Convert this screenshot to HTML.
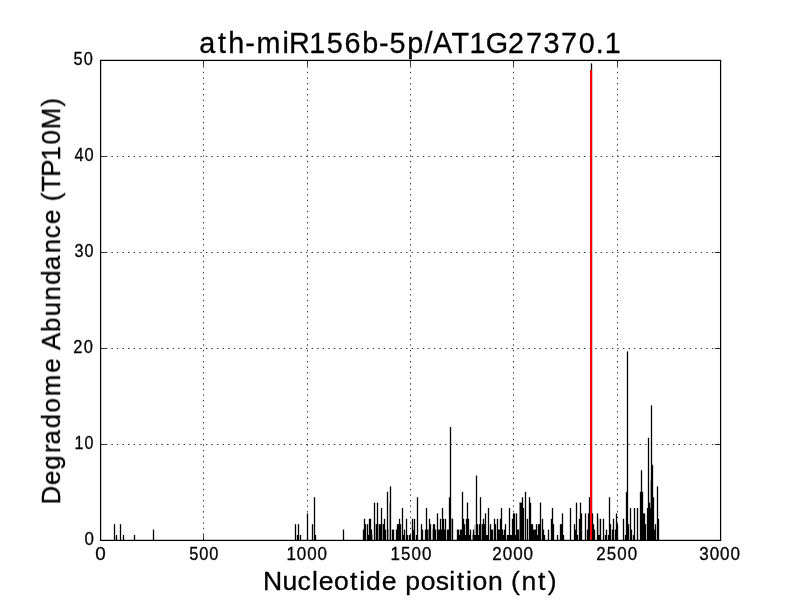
<!DOCTYPE html>
<html><head><meta charset="utf-8"><title>ath-miR156b-5p/AT1G27370.1</title>
<style>html,body{margin:0;padding:0;background:#fff;overflow:hidden}svg{display:block}text{font-family:"Liberation Sans",sans-serif;fill:#000}</style></head>
<body>
<svg width="800" height="600" viewBox="0 0 800 600">
<rect x="0" y="0" width="800" height="600" fill="#fff"/>
<g stroke="#000" stroke-width="1" stroke-dasharray="1.39 4.17" fill="none" opacity="0.8">
<line x1="203.5" y1="540.3" x2="203.5" y2="60.5"/>
<line x1="307.5" y1="540.3" x2="307.5" y2="60.5"/>
<line x1="410.5" y1="540.3" x2="410.5" y2="60.5"/>
<line x1="513.5" y1="540.3" x2="513.5" y2="60.5"/>
<line x1="617.5" y1="540.3" x2="617.5" y2="60.5"/>
<line x1="100.3" y1="444.5" x2="720.5" y2="444.5"/>
<line x1="100.3" y1="348.5" x2="720.5" y2="348.5"/>
<line x1="100.3" y1="252.5" x2="720.5" y2="252.5"/>
<line x1="100.3" y1="156.5" x2="720.5" y2="156.5"/>
</g>
<g fill="#000">
<rect x="113.85" y="524.2" width="1.3" height="16.3"/>
<rect x="115.85" y="535.0" width="1.3" height="5.5"/>
<rect x="119.85" y="524.2" width="1.3" height="16.3"/>
<rect x="122.85" y="535.0" width="1.3" height="5.5"/>
<rect x="133.85" y="535.0" width="1.3" height="5.5"/>
<rect x="152.85" y="529.6" width="1.3" height="10.9"/>
<rect x="294.85" y="524.2" width="1.3" height="16.3"/>
<rect x="296.85" y="535.0" width="1.3" height="5.5"/>
<rect x="297.85" y="524.2" width="1.3" height="16.3"/>
<rect x="299.85" y="535.0" width="1.3" height="5.5"/>
<rect x="306.85" y="513.4" width="1.3" height="27.1"/>
<rect x="311.85" y="524.2" width="1.3" height="16.3"/>
<rect x="313.85" y="497.2" width="1.3" height="43.3"/>
<rect x="314.85" y="535.0" width="1.3" height="5.5"/>
<rect x="342.85" y="529.6" width="1.3" height="10.9"/>
<rect x="362.85" y="529.6" width="1.3" height="10.9"/>
<rect x="363.85" y="518.8" width="1.3" height="21.7"/>
<rect x="364.85" y="524.2" width="1.3" height="16.3"/>
<rect x="366.85" y="524.2" width="1.3" height="16.3"/>
<rect x="367.85" y="535.0" width="1.3" height="5.5"/>
<rect x="368.85" y="518.8" width="1.3" height="21.7"/>
<rect x="369.85" y="518.8" width="1.3" height="21.7"/>
<rect x="370.85" y="529.6" width="1.3" height="10.9"/>
<rect x="373.85" y="502.6" width="1.3" height="37.9"/>
<rect x="375.85" y="524.2" width="1.3" height="16.3"/>
<rect x="376.85" y="502.6" width="1.3" height="37.9"/>
<rect x="378.85" y="524.2" width="1.3" height="16.3"/>
<rect x="379.85" y="524.2" width="1.3" height="16.3"/>
<rect x="380.85" y="508.0" width="1.3" height="32.5"/>
<rect x="382.85" y="524.2" width="1.3" height="16.3"/>
<rect x="383.85" y="518.8" width="1.3" height="21.7"/>
<rect x="384.85" y="529.6" width="1.3" height="10.9"/>
<rect x="386.85" y="491.8" width="1.3" height="48.7"/>
<rect x="389.85" y="486.4" width="1.3" height="54.1"/>
<rect x="391.85" y="529.6" width="1.3" height="10.9"/>
<rect x="392.85" y="529.6" width="1.3" height="10.9"/>
<rect x="395.85" y="529.6" width="1.3" height="10.9"/>
<rect x="396.85" y="524.2" width="1.3" height="16.3"/>
<rect x="397.85" y="524.2" width="1.3" height="16.3"/>
<rect x="398.85" y="518.8" width="1.3" height="21.7"/>
<rect x="399.85" y="524.2" width="1.3" height="16.3"/>
<rect x="401.85" y="508.0" width="1.3" height="32.5"/>
<rect x="402.85" y="535.0" width="1.3" height="5.5"/>
<rect x="403.85" y="529.6" width="1.3" height="10.9"/>
<rect x="405.85" y="518.8" width="1.3" height="21.7"/>
<rect x="406.85" y="535.0" width="1.3" height="5.5"/>
<rect x="408.85" y="535.0" width="1.3" height="5.5"/>
<rect x="411.85" y="518.8" width="1.3" height="21.7"/>
<rect x="412.85" y="529.6" width="1.3" height="10.9"/>
<rect x="413.85" y="518.8" width="1.3" height="21.7"/>
<rect x="415.85" y="535.0" width="1.3" height="5.5"/>
<rect x="416.85" y="497.2" width="1.3" height="43.3"/>
<rect x="420.85" y="524.2" width="1.3" height="16.3"/>
<rect x="421.85" y="529.6" width="1.3" height="10.9"/>
<rect x="424.85" y="529.6" width="1.3" height="10.9"/>
<rect x="425.85" y="508.0" width="1.3" height="32.5"/>
<rect x="426.85" y="529.6" width="1.3" height="10.9"/>
<rect x="428.85" y="518.8" width="1.3" height="21.7"/>
<rect x="429.85" y="524.2" width="1.3" height="16.3"/>
<rect x="432.85" y="524.2" width="1.3" height="16.3"/>
<rect x="433.85" y="524.2" width="1.3" height="16.3"/>
<rect x="434.85" y="529.6" width="1.3" height="10.9"/>
<rect x="436.85" y="513.4" width="1.3" height="27.1"/>
<rect x="437.85" y="529.6" width="1.3" height="10.9"/>
<rect x="438.85" y="529.6" width="1.3" height="10.9"/>
<rect x="439.85" y="518.8" width="1.3" height="21.7"/>
<rect x="440.85" y="529.6" width="1.3" height="10.9"/>
<rect x="441.85" y="508.0" width="1.3" height="32.5"/>
<rect x="442.85" y="518.8" width="1.3" height="21.7"/>
<rect x="443.85" y="529.6" width="1.3" height="10.9"/>
<rect x="444.85" y="518.8" width="1.3" height="21.7"/>
<rect x="446.85" y="529.6" width="1.3" height="10.9"/>
<rect x="447.85" y="529.6" width="1.3" height="10.9"/>
<rect x="448.85" y="497.2" width="1.3" height="43.3"/>
<rect x="449.85" y="427.0" width="1.3" height="113.5"/>
<rect x="451.85" y="518.8" width="1.3" height="21.7"/>
<rect x="456.85" y="529.6" width="1.3" height="10.9"/>
<rect x="457.85" y="529.6" width="1.3" height="10.9"/>
<rect x="458.85" y="535.0" width="1.3" height="5.5"/>
<rect x="459.85" y="529.6" width="1.3" height="10.9"/>
<rect x="460.85" y="529.6" width="1.3" height="10.9"/>
<rect x="461.85" y="491.8" width="1.3" height="48.7"/>
<rect x="462.85" y="518.8" width="1.3" height="21.7"/>
<rect x="463.85" y="524.2" width="1.3" height="16.3"/>
<rect x="464.85" y="535.0" width="1.3" height="5.5"/>
<rect x="465.85" y="518.8" width="1.3" height="21.7"/>
<rect x="466.85" y="502.6" width="1.3" height="37.9"/>
<rect x="467.85" y="518.8" width="1.3" height="21.7"/>
<rect x="468.85" y="535.0" width="1.3" height="5.5"/>
<rect x="469.85" y="529.6" width="1.3" height="10.9"/>
<rect x="472.85" y="529.6" width="1.3" height="10.9"/>
<rect x="473.85" y="535.0" width="1.3" height="5.5"/>
<rect x="474.85" y="535.0" width="1.3" height="5.5"/>
<rect x="475.85" y="475.6" width="1.3" height="64.9"/>
<rect x="476.85" y="524.2" width="1.3" height="16.3"/>
<rect x="477.85" y="535.0" width="1.3" height="5.5"/>
<rect x="478.85" y="524.2" width="1.3" height="16.3"/>
<rect x="479.85" y="497.2" width="1.3" height="43.3"/>
<rect x="481.85" y="524.2" width="1.3" height="16.3"/>
<rect x="482.85" y="518.8" width="1.3" height="21.7"/>
<rect x="483.85" y="524.2" width="1.3" height="16.3"/>
<rect x="484.85" y="513.4" width="1.3" height="27.1"/>
<rect x="485.85" y="535.0" width="1.3" height="5.5"/>
<rect x="486.85" y="535.0" width="1.3" height="5.5"/>
<rect x="487.85" y="508.0" width="1.3" height="32.5"/>
<rect x="489.85" y="524.2" width="1.3" height="16.3"/>
<rect x="490.85" y="529.6" width="1.3" height="10.9"/>
<rect x="491.85" y="529.6" width="1.3" height="10.9"/>
<rect x="493.85" y="518.8" width="1.3" height="21.7"/>
<rect x="494.85" y="524.2" width="1.3" height="16.3"/>
<rect x="496.85" y="518.8" width="1.3" height="21.7"/>
<rect x="497.85" y="529.6" width="1.3" height="10.9"/>
<rect x="498.85" y="529.6" width="1.3" height="10.9"/>
<rect x="499.85" y="518.8" width="1.3" height="21.7"/>
<rect x="500.85" y="508.0" width="1.3" height="32.5"/>
<rect x="501.85" y="529.6" width="1.3" height="10.9"/>
<rect x="502.85" y="535.0" width="1.3" height="5.5"/>
<rect x="503.85" y="529.6" width="1.3" height="10.9"/>
<rect x="504.85" y="524.2" width="1.3" height="16.3"/>
<rect x="506.85" y="535.0" width="1.3" height="5.5"/>
<rect x="507.85" y="535.0" width="1.3" height="5.5"/>
<rect x="508.85" y="508.0" width="1.3" height="32.5"/>
<rect x="509.85" y="535.0" width="1.3" height="5.5"/>
<rect x="510.85" y="535.0" width="1.3" height="5.5"/>
<rect x="511.85" y="518.8" width="1.3" height="21.7"/>
<rect x="512.85" y="513.4" width="1.3" height="27.1"/>
<rect x="513.85" y="513.4" width="1.3" height="27.1"/>
<rect x="514.85" y="535.0" width="1.3" height="5.5"/>
<rect x="515.85" y="513.4" width="1.3" height="27.1"/>
<rect x="516.85" y="529.6" width="1.3" height="10.9"/>
<rect x="517.85" y="529.6" width="1.3" height="10.9"/>
<rect x="519.85" y="502.6" width="1.3" height="37.9"/>
<rect x="520.85" y="502.6" width="1.3" height="37.9"/>
<rect x="521.85" y="497.2" width="1.3" height="43.3"/>
<rect x="522.85" y="508.0" width="1.3" height="32.5"/>
<rect x="524.85" y="491.8" width="1.3" height="48.7"/>
<rect x="526.85" y="518.8" width="1.3" height="21.7"/>
<rect x="528.85" y="497.2" width="1.3" height="43.3"/>
<rect x="529.85" y="502.6" width="1.3" height="37.9"/>
<rect x="530.85" y="524.2" width="1.3" height="16.3"/>
<rect x="531.85" y="524.2" width="1.3" height="16.3"/>
<rect x="532.85" y="529.6" width="1.3" height="10.9"/>
<rect x="533.85" y="529.6" width="1.3" height="10.9"/>
<rect x="534.85" y="529.6" width="1.3" height="10.9"/>
<rect x="535.85" y="524.2" width="1.3" height="16.3"/>
<rect x="536.85" y="535.0" width="1.3" height="5.5"/>
<rect x="537.85" y="524.2" width="1.3" height="16.3"/>
<rect x="538.85" y="524.2" width="1.3" height="16.3"/>
<rect x="539.85" y="502.6" width="1.3" height="37.9"/>
<rect x="541.85" y="518.8" width="1.3" height="21.7"/>
<rect x="542.85" y="529.6" width="1.3" height="10.9"/>
<rect x="543.85" y="535.0" width="1.3" height="5.5"/>
<rect x="547.85" y="529.6" width="1.3" height="10.9"/>
<rect x="550.85" y="518.8" width="1.3" height="21.7"/>
<rect x="551.85" y="508.0" width="1.3" height="32.5"/>
<rect x="552.85" y="524.2" width="1.3" height="16.3"/>
<rect x="556.85" y="535.0" width="1.3" height="5.5"/>
<rect x="559.85" y="524.2" width="1.3" height="16.3"/>
<rect x="560.85" y="524.2" width="1.3" height="16.3"/>
<rect x="561.85" y="513.4" width="1.3" height="27.1"/>
<rect x="562.85" y="535.0" width="1.3" height="5.5"/>
<rect x="569.85" y="508.0" width="1.3" height="32.5"/>
<rect x="573.85" y="524.2" width="1.3" height="16.3"/>
<rect x="574.85" y="529.6" width="1.3" height="10.9"/>
<rect x="575.85" y="502.6" width="1.3" height="37.9"/>
<rect x="576.85" y="535.0" width="1.3" height="5.5"/>
<rect x="578.85" y="518.8" width="1.3" height="21.7"/>
<rect x="579.85" y="502.6" width="1.3" height="37.9"/>
<rect x="580.85" y="513.4" width="1.3" height="27.1"/>
<rect x="584.85" y="513.4" width="1.3" height="27.1"/>
<rect x="586.85" y="529.6" width="1.3" height="10.9"/>
<rect x="587.85" y="513.4" width="1.3" height="27.1"/>
<rect x="588.85" y="497.2" width="1.3" height="43.3"/>
<rect x="590.85" y="63.4" width="1.3" height="477.1"/>
<rect x="591.85" y="513.4" width="1.3" height="27.1"/>
<rect x="592.85" y="524.2" width="1.3" height="16.3"/>
<rect x="593.85" y="529.6" width="1.3" height="10.9"/>
<rect x="596.85" y="513.4" width="1.3" height="27.1"/>
<rect x="597.85" y="535.0" width="1.3" height="5.5"/>
<rect x="598.85" y="535.0" width="1.3" height="5.5"/>
<rect x="599.85" y="518.8" width="1.3" height="21.7"/>
<rect x="602.85" y="518.8" width="1.3" height="21.7"/>
<rect x="604.85" y="535.0" width="1.3" height="5.5"/>
<rect x="605.85" y="529.6" width="1.3" height="10.9"/>
<rect x="607.85" y="535.0" width="1.3" height="5.5"/>
<rect x="608.85" y="497.2" width="1.3" height="43.3"/>
<rect x="609.85" y="524.2" width="1.3" height="16.3"/>
<rect x="611.85" y="529.6" width="1.3" height="10.9"/>
<rect x="612.85" y="518.8" width="1.3" height="21.7"/>
<rect x="614.85" y="529.6" width="1.3" height="10.9"/>
<rect x="615.85" y="513.4" width="1.3" height="27.1"/>
<rect x="616.85" y="524.2" width="1.3" height="16.3"/>
<rect x="622.85" y="518.8" width="1.3" height="21.7"/>
<rect x="624.85" y="535.0" width="1.3" height="5.5"/>
<rect x="625.85" y="491.8" width="1.3" height="48.7"/>
<rect x="626.85" y="351.4" width="1.3" height="189.1"/>
<rect x="627.85" y="524.2" width="1.3" height="16.3"/>
<rect x="629.85" y="508.0" width="1.3" height="32.5"/>
<rect x="630.85" y="529.6" width="1.3" height="10.9"/>
<rect x="632.85" y="535.0" width="1.3" height="5.5"/>
<rect x="633.85" y="508.0" width="1.3" height="32.5"/>
<rect x="636.85" y="508.0" width="1.3" height="32.5"/>
<rect x="639.85" y="491.8" width="1.3" height="48.7"/>
<rect x="640.85" y="470.2" width="1.3" height="70.3"/>
<rect x="641.85" y="491.8" width="1.3" height="48.7"/>
<rect x="642.85" y="513.4" width="1.3" height="27.1"/>
<rect x="643.85" y="513.4" width="1.3" height="27.1"/>
<rect x="644.85" y="524.2" width="1.3" height="16.3"/>
<rect x="646.85" y="508.0" width="1.3" height="32.5"/>
<rect x="647.85" y="437.8" width="1.3" height="102.7"/>
<rect x="648.85" y="502.6" width="1.3" height="37.9"/>
<rect x="649.85" y="508.0" width="1.3" height="32.5"/>
<rect x="650.85" y="405.4" width="1.3" height="135.1"/>
<rect x="651.85" y="464.8" width="1.3" height="75.7"/>
<rect x="652.85" y="497.2" width="1.3" height="43.3"/>
<rect x="653.85" y="529.6" width="1.3" height="10.9"/>
<rect x="654.85" y="524.2" width="1.3" height="16.3"/>
<rect x="656.85" y="486.4" width="1.3" height="54.1"/>
<rect x="657.85" y="518.8" width="1.3" height="21.7"/>
</g>
<g fill="#000">
<rect x="372" y="534.6" width="1" height="5.4" opacity="0.3"/>
<rect x="375" y="523.8" width="1" height="16.2" opacity="0.25"/>
<rect x="378" y="523.8" width="1" height="16.2" opacity="0.25"/>
<rect x="382" y="523.8" width="1" height="16.2" opacity="0.3"/>
<rect x="383" y="523.8" width="1" height="16.2" opacity="0.3"/>
<rect x="388" y="529.2" width="1" height="10.8" opacity="0.3"/>
<rect x="389" y="502.2" width="1" height="37.8" opacity="0.3"/>
<rect x="410" y="534.6" width="1" height="5.4" opacity="0.5"/>
<rect x="428" y="529.2" width="1" height="10.8" opacity="0.4"/>
<rect x="432" y="529.2" width="1" height="10.8" opacity="0.3"/>
<rect x="451" y="518.4" width="1" height="21.6" opacity="0.3"/>
<rect x="472" y="534.6" width="1" height="5.4" opacity="0.4"/>
<rect x="474" y="524.9" width="1" height="15.1" opacity="0.25"/>
<rect x="475" y="524.9" width="1" height="15.1" opacity="0.25"/>
<rect x="481" y="523.8" width="1" height="16.2" opacity="0.3"/>
<rect x="519" y="502.2" width="1" height="37.8" opacity="0.4"/>
<rect x="598" y="518.4" width="1" height="21.6" opacity="0.2"/>
<rect x="599" y="518.4" width="1" height="21.6" opacity="0.2"/>
<rect x="650" y="480.6" width="1" height="59.4" opacity="0.3"/>
</g>
<rect x="590" y="70" width="2.1" height="470" fill="#ff0000"/>
<g stroke="#000" stroke-width="0.75" fill="none">
<line x1="100.5" y1="540.4" x2="100.5" y2="534.8"/>
<line x1="100.5" y1="60.4" x2="100.5" y2="66.0"/>
<line x1="203.5" y1="540.4" x2="203.5" y2="534.8"/>
<line x1="203.5" y1="60.4" x2="203.5" y2="66.0"/>
<line x1="307.5" y1="540.4" x2="307.5" y2="534.8"/>
<line x1="307.5" y1="60.4" x2="307.5" y2="66.0"/>
<line x1="410.5" y1="540.4" x2="410.5" y2="534.8"/>
<line x1="410.5" y1="60.4" x2="410.5" y2="66.0"/>
<line x1="513.5" y1="540.4" x2="513.5" y2="534.8"/>
<line x1="513.5" y1="60.4" x2="513.5" y2="66.0"/>
<line x1="617.5" y1="540.4" x2="617.5" y2="534.8"/>
<line x1="617.5" y1="60.4" x2="617.5" y2="66.0"/>
<line x1="720.5" y1="540.4" x2="720.5" y2="534.8"/>
<line x1="720.5" y1="60.4" x2="720.5" y2="66.0"/>
<line x1="100.6" y1="540.5" x2="106.2" y2="540.5"/>
<line x1="720.5" y1="540.5" x2="714.9" y2="540.5"/>
<line x1="100.6" y1="444.5" x2="106.2" y2="444.5"/>
<line x1="720.5" y1="444.5" x2="714.9" y2="444.5"/>
<line x1="100.6" y1="348.5" x2="106.2" y2="348.5"/>
<line x1="720.5" y1="348.5" x2="714.9" y2="348.5"/>
<line x1="100.6" y1="252.5" x2="106.2" y2="252.5"/>
<line x1="720.5" y1="252.5" x2="714.9" y2="252.5"/>
<line x1="100.6" y1="156.5" x2="106.2" y2="156.5"/>
<line x1="720.5" y1="156.5" x2="714.9" y2="156.5"/>
<line x1="100.6" y1="60.5" x2="106.2" y2="60.5"/>
<line x1="720.5" y1="60.5" x2="714.9" y2="60.5"/>
</g>
<rect x="100.6" y="60.4" width="620" height="480" fill="none" stroke="#000" stroke-width="1.25"/>
<g style="filter:grayscale(1)">
<text transform="scale(0.9772,1)" x="203.83 223.09 233.57 250.87 262.43 289.03 295.83 316.46 334.45 352.52 370.64 387.80 398.47 416.71 434.34 443.01 462.13 480.37 497.17 519.98 538.25 556.30 574.17 592.18 609.74 618.97" y="52.8" font-size="29.44" stroke="#000" stroke-width="0.3">ath-miR156b-5p/AT1G27370.1</text>
<text transform="scale(1.0027,1)" x="262.30 281.62 296.82 311.08 317.80 333.00 349.09 358.23 364.98 380.71 395.67 404.23 419.58 434.56 448.00 455.51 464.65 471.27 486.79 501.98 509.64 520.13 536.44 546.17" y="589.8" font-size="26.49" stroke="#000" stroke-width="0.3">Nucleotide position (nt)</text>
<text transform="translate(60.0,502.6) rotate(-90) scale(0.9776,1)" x="-2.06 17.86 33.63 50.62 59.30 76.05 92.15 108.82 132.79 147.98 156.01 174.51 190.51 206.83 222.84 237.99 254.94 270.46 284.96 300.15 308.18 317.98 333.18 349.92 366.32 381.83 405.14" y="0" font-size="26.49" stroke="#000" stroke-width="0.3">Degradome Abundance (TP10M)</text>
<text transform="scale(1.0655,1)" x="89.37" y="559.7" font-size="17.66" stroke="#000" stroke-width="0.3">0</text>
<text transform="scale(0.9271,1)" x="204.00 214.93 225.79" y="559.7" font-size="17.66" stroke="#000" stroke-width="0.3">500</text>
<text transform="scale(0.9611,1)" x="298.03 308.90 319.67 330.44" y="559.7" font-size="17.66" stroke="#000" stroke-width="0.3">1000</text>
<text transform="scale(0.9589,1)" x="407.19 418.14 429.14 440.07" y="559.7" font-size="17.66" stroke="#000" stroke-width="0.3">1500</text>
<text transform="scale(0.9666,1)" x="509.22 520.20 530.95 541.71" y="559.7" font-size="17.66" stroke="#000" stroke-width="0.3">2000</text>
<text transform="scale(0.9590,1)" x="621.66 632.73 643.70 654.61" y="559.7" font-size="17.66" stroke="#000" stroke-width="0.3">2500</text>
<text transform="scale(0.9641,1)" x="725.41 736.16 746.92 757.69" y="559.7" font-size="17.66" stroke="#000" stroke-width="0.3">3000</text>
<text transform="scale(0.9551,1)" x="88.56" y="544.60" font-size="17.66" stroke="#000" stroke-width="0.3">0</text>
<text transform="scale(0.9105,1)" x="81.89 92.87" y="448.60" font-size="17.66" stroke="#000" stroke-width="0.3">10</text>
<text transform="scale(0.9355,1)" x="78.34 89.42" y="352.60" font-size="17.66" stroke="#000" stroke-width="0.3">20</text>
<text transform="scale(0.9144,1)" x="81.59 92.44" y="256.60" font-size="17.66" stroke="#000" stroke-width="0.3">30</text>
<text transform="scale(0.9286,1)" x="80.31 90.97" y="160.60" font-size="17.66" stroke="#000" stroke-width="0.3">40</text>
<text transform="scale(0.9254,1)" x="79.41 90.44" y="64.60" font-size="17.66" stroke="#000" stroke-width="0.3">50</text>
</g>
</svg>
</body></html>
